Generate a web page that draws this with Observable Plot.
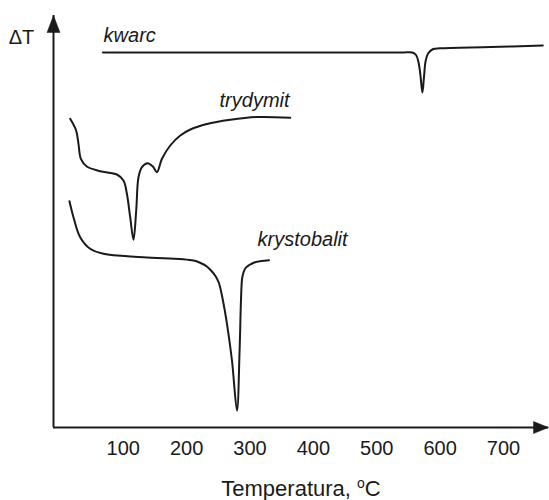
<!DOCTYPE html>
<html>
<head>
<meta charset="utf-8">
<script src="https://cdn.jsdelivr.net/npm/d3@7"></script>
<script src="https://cdn.jsdelivr.net/npm/@observablehq/plot@0.6"></script>
<style>
  body { margin: 0; background: #fff; }
  #chart svg { display: block; }
</style>
</head>
<body>
<div id="chart"></div>
<script>
// DTA curves of the SiO2 polymorphs: temperature (°C) vs ΔT (arbitrary units)
const kwarcT  = [68, 200, 400, 540, 556, 562, 566, 569, 572, 574.5, 577, 581, 589, 600, 680, 762];
const kwarcDT = [375, 375, 375, 375, 375, 372.5, 365, 352, 335, 350, 366, 374, 378.5, 379.2, 380.5, 382];

const trydymitT  = [16.3, 25.7, 29.4, 33.2, 42.6, 63.6, 90, 100.4, 105.8, 111, 116.2, 120.5, 124.1, 129.5, 138.3, 146.8, 153.2, 161.1, 174.2, 190, 206, 232, 269, 311, 363.6];
const trydymitDT = [308.7, 297, 283.7, 268.7, 261, 256.3, 253, 247, 233.7, 210.3, 187.7, 217, 250.3, 260.3, 264.3, 261, 255.3, 268.7, 282, 292, 298, 303.5, 307.7, 310.5, 309.7];

const krystobalitT  = [15.2, 21.5, 32.1, 47.8, 68.8, 132, 211, 222, 232, 240, 246, 251, 257, 263.7, 271.6, 279.5, 283.6, 285.8, 287.6, 290, 293, 299, 306, 318, 330];
const krystobalitDT = [226.3, 210.3, 190.3, 178.7, 173.7, 170.3, 167, 164.5, 161, 156, 151, 144.5, 128, 103.7, 67, 17, 77, 127, 149, 155.5, 159.5, 162.5, 164.8, 166.5, 167.3];

const xTicks = [100, 200, 300, 400, 500, 600, 700];

// curve names and where their labels sit (T, ΔT)
const seriesNames = ["kwarc", "trydymit", "krystobalit"];
const labelT  = [69, 252, 312];
const labelDT = [391.7, 327.4, 188.4];

const xTitle = "Temperatura, oC";
const yTitle = "ΔT";

const xDomain = [-10, 771];
const yDomain = [0, 412];
const ink = "#1a1a1a";

function rows(name, ts, dts) {
  return ts.map((t, i) => ({series: name, T: t, dT: dts[i]}));
}
const curves = [
  ...rows(seriesNames[0], kwarcT, kwarcDT),
  ...rows(seriesNames[1], trydymitT, trydymitDT),
  ...rows(seriesNames[2], krystobalitT, krystobalitDT)
];
const labels = seriesNames.map((name, i) => ({name, T: labelT[i], dT: labelDT[i]}));

// filled arrowheads, tip at the symbol origin
const arrowUp = {draw(ctx) { ctx.moveTo(0, 0); ctx.lineTo(-6.5, 17); ctx.lineTo(6.5, 17); ctx.closePath(); }};
const arrowRight = {draw(ctx) { ctx.moveTo(0, 0); ctx.lineTo(-15, -6); ctx.lineTo(-15, 6); ctx.closePath(); }};

const chart = Plot.plot({
  width: 549,
  height: 500,
  marginLeft: 53,
  marginRight: 1,
  marginTop: 15,
  marginBottom: 73,
  x: {domain: xDomain, axis: null},
  y: {domain: yDomain, axis: null},
  style: {
    fontFamily: "'Liberation Sans', Arial, sans-serif",
    fontSize: "20px",
    color: ink,
    background: "#fff",
    overflow: "visible"
  },
  marks: [
    Plot.ruleY([yDomain[0]], {stroke: ink, strokeWidth: 2}),
    Plot.ruleX([xDomain[0]], {stroke: ink, strokeWidth: 2}),
    Plot.dot([{x: xDomain[0], y: yDomain[1]}], {x: "x", y: "y", symbol: arrowUp, fill: ink, stroke: ink, strokeWidth: 0.5}),
    Plot.dot([{x: xDomain[1], y: yDomain[0]}], {x: "x", y: "y", symbol: arrowRight, fill: ink, stroke: ink, strokeWidth: 0.5}),
    Plot.line(curves, {x: "T", y: "dT", z: "series", stroke: ink, strokeWidth: 2, curve: "catmull-rom"}),
    Plot.text(labels, {x: "T", y: "dT", text: "name", textAnchor: "start", lineAnchor: "middle", fontStyle: "italic", fontSize: 20, fill: ink}),
    Plot.text(xTicks, {x: d => d, text: d => String(d), frameAnchor: "bottom", lineAnchor: "middle", dy: 21, fontSize: 20, fill: ink}),
    Plot.text([xTitle], {text: d => d, frameAnchor: "bottom", lineAnchor: "middle", textAnchor: "middle", dy: 61, fontSize: 22, fill: ink}),
    Plot.text([yTitle], {text: d => d, frameAnchor: "top-left", lineAnchor: "middle", textAnchor: "middle", dx: -32, dy: 22, fontSize: 20, fill: ink})
  ]
});

// raise the "o" of the degree unit in the axis title
d3.select(chart).selectAll("text").filter(function() { return this.textContent === xTitle; })
  .each(function() {
    const t = d3.select(this);
    t.text(null);
    t.append("tspan").text("Temperatura, ");
    t.append("tspan").attr("dy", -8).attr("font-size", 14).text("o");
    t.append("tspan").attr("dy", 8).text("C");
  });

document.getElementById("chart").appendChild(chart);
</script>
</body>
</html>
